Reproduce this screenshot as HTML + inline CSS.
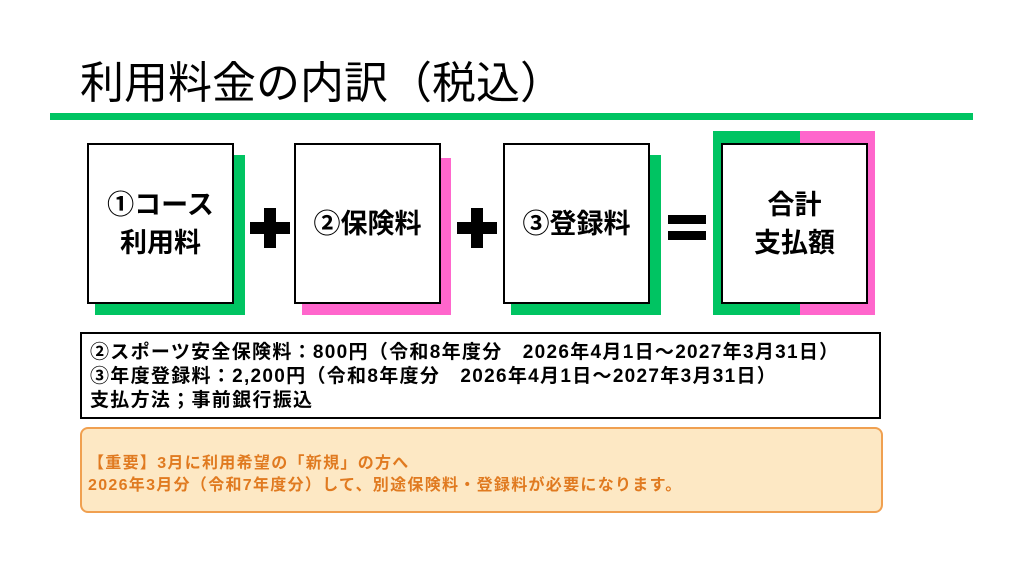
<!DOCTYPE html>
<html><head><meta charset="utf-8"><style>
body{margin:0;width:1024px;height:576px;background:#fff;position:relative;overflow:hidden;font-family:"Liberation Sans","Noto Sans CJK JP",sans-serif;}
.a{position:absolute;}
.w{position:absolute;background:#fff;border:2px solid #000;box-sizing:border-box;display:flex;align-items:center;justify-content:center;text-align:center;font-weight:bold;font-size:27px;line-height:38px;}
.g{background:#00c462;}.p{background:#ff66cc;}
.bar{position:absolute;background:#000;}
</style></head><body>
<div class="a" style="left:80px;top:56px;font-size:44px;line-height:56px;color:#000;">利用料金の内訳（税込）</div>
<div class="a g" style="left:50px;top:113px;width:923px;height:7px;"></div>

<div class="a g" style="left:95px;top:155px;width:150px;height:160px;"></div>
<div class="w" style="left:87px;top:143px;width:147px;height:161px;">①コース<br>利用料</div>
<div class="a p" style="left:302px;top:158px;width:149px;height:157px;"></div>
<div class="w" style="left:294px;top:143px;width:147px;height:161px;">②保険料</div>
<div class="a g" style="left:511px;top:155px;width:150px;height:160px;"></div>
<div class="w" style="left:503px;top:143px;width:147px;height:161px;">③登録料</div>
<div class="a g" style="left:713px;top:131px;width:87px;height:184px;"></div>
<div class="a p" style="left:800px;top:131px;width:75px;height:184px;"></div>
<div class="w" style="left:721px;top:143px;width:147px;height:161px;">合計<br>支払額</div>

<div class="bar" style="left:250px;top:222px;width:40px;height:12px;"></div>
<div class="bar" style="left:264px;top:208px;width:12px;height:40px;"></div>
<div class="bar" style="left:457px;top:222px;width:40px;height:12px;"></div>
<div class="bar" style="left:471px;top:208px;width:12px;height:40px;"></div>
<div class="bar" style="left:668px;top:215px;width:38px;height:9px;"></div>
<div class="bar" style="left:668px;top:231px;width:38px;height:9px;"></div>

<div class="a" style="left:80px;top:332px;width:801px;height:87px;border:2px solid #000;box-sizing:border-box;padding:7px 0 0 8px;font-size:19px;letter-spacing:1.3px;font-weight:bold;line-height:24px;white-space:pre;">②スポーツ安全保険料：800円（令和8年度分　2026年4月1日～2027年3月31日）
③年度登録料：2,200円（令和8年度分　2026年4月1日～2027年3月31日）
支払方法；事前銀行振込</div>

<div class="a" style="left:80px;top:427px;width:803px;height:86px;border:2px solid #f0a050;border-radius:8px;background:#fde8c4;box-sizing:border-box;padding:24px 0 0 6px;font-size:16px;letter-spacing:1.3px;line-height:22px;color:#e07a20;font-weight:bold;">【重要】3月に利用希望の「新規」の方へ<br>2026年3月分（令和7年度分）して、別途保険料・登録料が必要になります。</div>
</body></html>
